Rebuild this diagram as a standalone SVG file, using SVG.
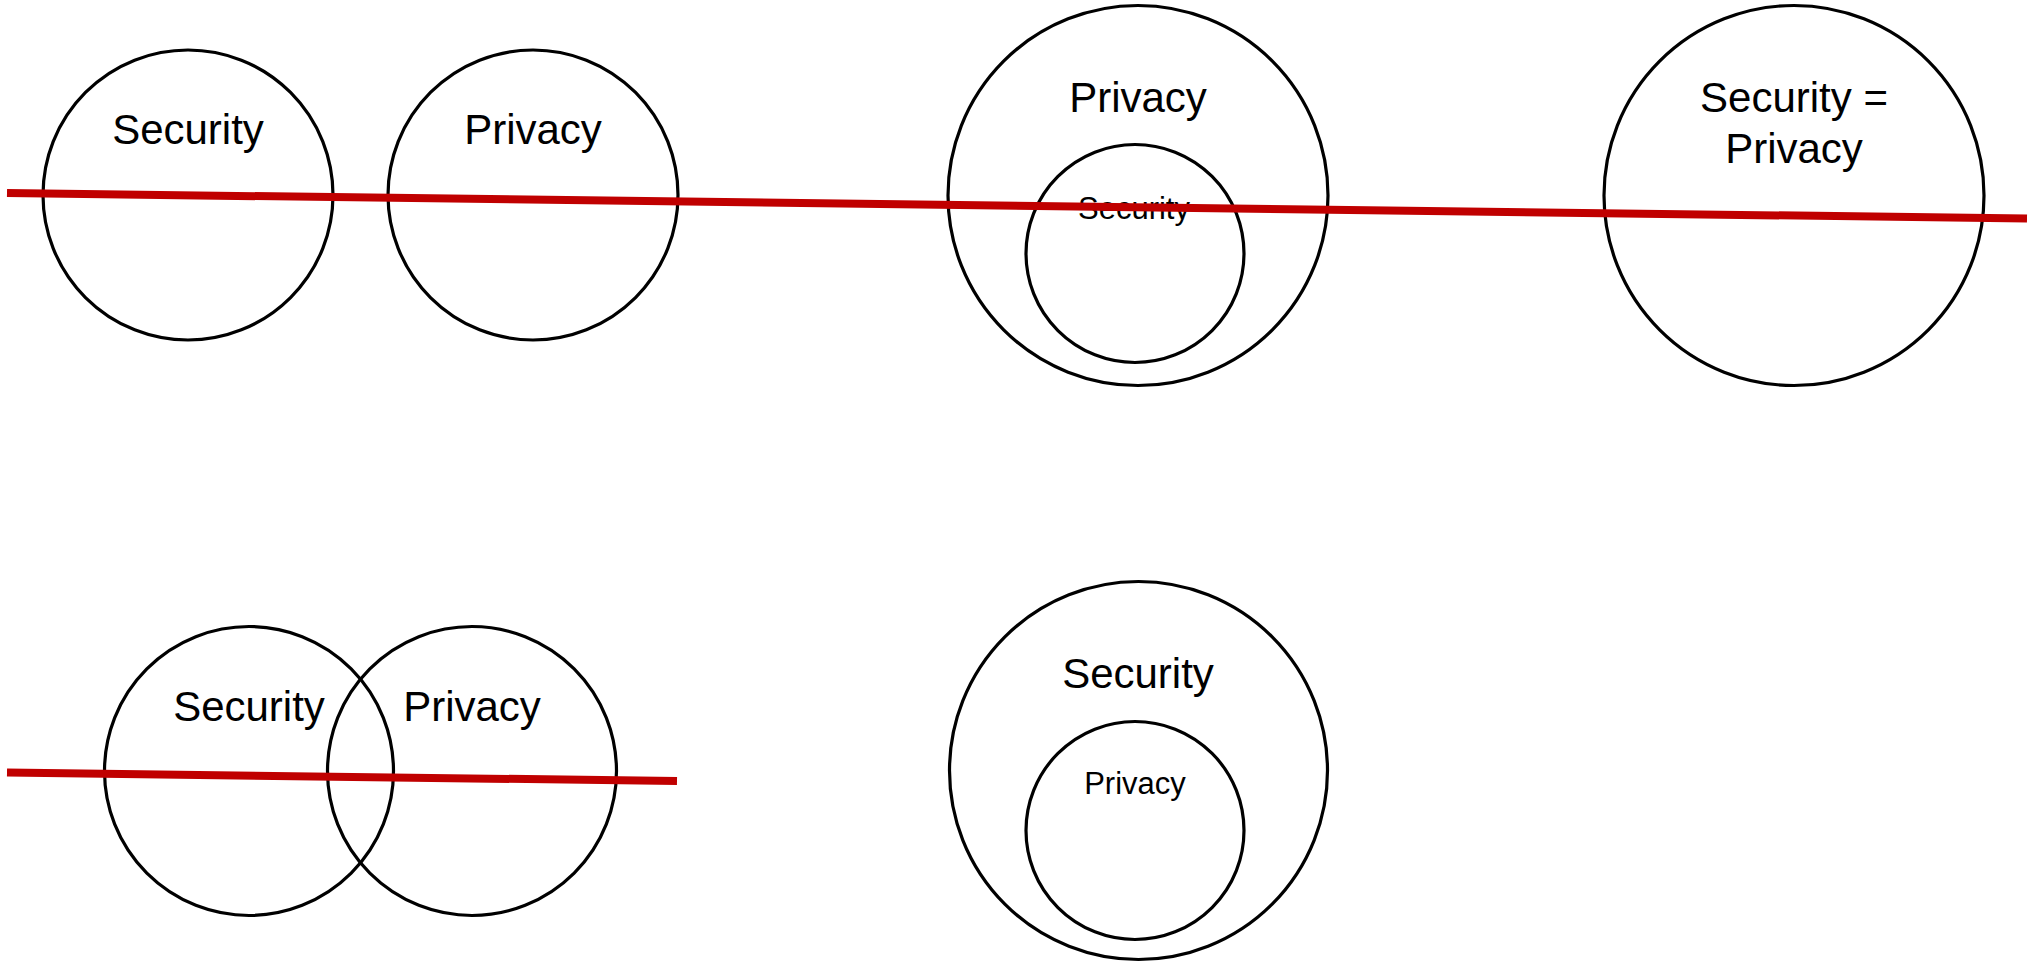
<svg xmlns="http://www.w3.org/2000/svg" width="2030" height="963" viewBox="0 0 2030 963">
<style>
.c{fill:none;stroke:#000;stroke-width:3.2}
.t{font-family:"Liberation Sans",Arial,sans-serif;font-size:42px;fill:#000;text-anchor:middle}
.s{font-size:31px}
.r{stroke:#C00000;stroke-width:8;fill:none}
</style>
<rect width="2030" height="963" fill="#fff"/>
<g id="sep-security">
<circle class="c" cx="188" cy="195" r="145"/>
<text class="t" x="188" y="144">Security</text>
</g>
<g id="sep-privacy">
<circle class="c" cx="533" cy="195" r="145"/>
<text class="t" x="533" y="144">Privacy</text>
</g>
<g id="privacy-outer">
<circle class="c" cx="1138" cy="195.5" r="190"/>
<text class="t" x="1138" y="112">Privacy</text>
</g>
<g id="security-inner">
<circle class="c" cx="1135" cy="253.5" r="109"/>
<text class="t s" x="1134" y="219">Security</text>
</g>
<g id="equal">
<circle class="c" cx="1794" cy="195.5" r="190"/>
<text class="t" x="1794" y="112">Security =</text>
<text class="t" x="1794" y="163">Privacy</text>
</g>
<g id="venn-security">
<circle class="c" cx="249" cy="771" r="144.5"/>
<text class="t" x="249" y="721">Security</text>
</g>
<g id="venn-privacy">
<circle class="c" cx="472" cy="771" r="144.5"/>
<text class="t" x="472" y="721">Privacy</text>
</g>
<g id="security-outer">
<circle class="c" cx="1138.5" cy="770.5" r="189"/>
<text class="t" x="1138" y="688">Security</text>
</g>
<g id="privacy-inner">
<circle class="c" cx="1135" cy="830.5" r="109"/>
<text class="t s" x="1135" y="794">Privacy</text>
</g>
<g id="connectors">
<line class="r" x1="7" y1="193" x2="2027" y2="218.5"/>
<line class="r" x1="7" y1="772.5" x2="677" y2="781"/>
</g>
</svg>
